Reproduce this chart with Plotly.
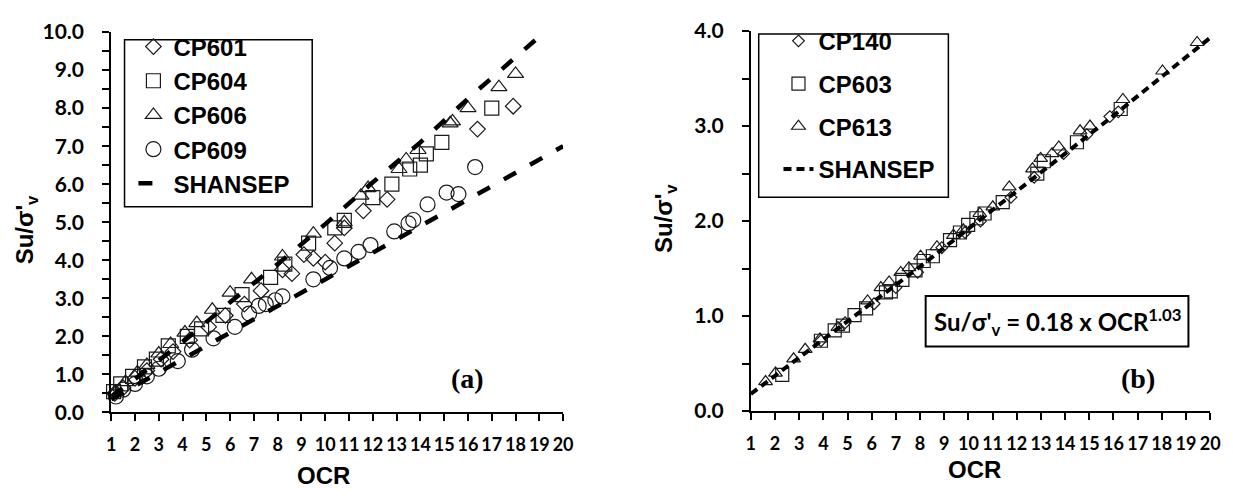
import plotly.graph_objects as go

W, H = 1233, 499

# ---------------- data: panel (a) ----------------
cp601_x = [1.15, 1.5, 2.0, 2.5, 3.1, 3.6, 4.3, 5.1, 5.8, 6.6, 7.3, 8.2, 8.6, 9.1, 9.5, 10.0, 10.4, 10.8, 11.6, 12.6, 16.4, 17.9]
cp601_y = [0.5, 0.65, 0.9, 1.1, 1.4, 1.6, 1.9, 2.25, 2.55, 2.85, 3.2, 3.75, 3.65, 4.15, 4.05, 3.95, 4.45, 4.85, 5.3, 5.6, 7.45, 8.05]

cp604_x = [1.1, 1.4, 1.9, 2.4, 2.9, 3.4, 4.2, 4.8, 5.7, 6.5, 7.7, 8.3, 9.3, 10.4, 10.8, 12.0, 12.8, 13.55, 14.0, 14.25, 14.9, 17.0]
cp604_y = [0.55, 0.75, 0.95, 1.2, 1.4, 1.75, 2.0, 2.2, 2.55, 3.1, 3.55, 3.9, 4.45, 4.85, 5.05, 5.65, 6.0, 6.4, 6.5, 6.8, 7.1, 8.0]

cp606_x = [1.2, 1.6, 2.1, 2.5, 3.0, 3.5, 4.1, 4.6, 5.25, 6.0, 6.9, 8.2, 9.5, 10.8, 11.5, 11.8, 13.1, 13.4, 13.9, 15.25, 15.35, 16.0, 17.3, 18.0]
cp606_y = [0.55, 0.8, 1.05, 1.25, 1.55, 1.8, 2.1, 2.35, 2.7, 3.15, 3.5, 4.1, 4.7, 5.0, 5.7, 5.9, 6.4, 6.65, 6.9, 7.6, 7.65, 8.0, 8.55, 8.9]

cp609_x = [1.2, 1.5, 2.0, 2.5, 3.0, 3.8, 4.4, 5.3, 6.2, 6.8, 7.2, 7.5, 7.9, 8.2, 9.5, 10.2, 10.8, 11.4, 11.9, 12.9, 13.5, 13.7, 14.3, 15.1, 15.6, 16.3]
cp609_y = [0.42, 0.6, 0.75, 0.95, 1.15, 1.35, 1.65, 1.95, 2.25, 2.6, 2.8, 2.85, 2.95, 3.05, 3.5, 3.8, 4.05, 4.22, 4.4, 4.76, 4.97, 5.06, 5.47, 5.78, 5.74, 6.45]

shansep_a_up_x = [1, 2, 4, 6, 8, 10, 12, 14, 16, 18, 19.22]
shansep_a_up_y = [0.42, 0.88, 1.85, 2.9, 3.9, 4.95, 6.05, 7.1, 8.25, 9.35, 10.0]
shansep_a_lo_x = [1, 5, 10, 15, 20]
shansep_a_lo_y = [0.35, 1.75, 3.5, 5.25, 7.0]

# ---------------- data: panel (b) ----------------
cp140_x = [3.9, 4.9, 6.1, 7.0, 7.9, 8.9, 9.86, 10.5, 11.76, 12.72, 13.94, 14.9, 15.85, 16.2]
cp140_y = [0.74, 0.93, 1.13, 1.3, 1.46, 1.72, 1.88, 2.0, 2.25, 2.46, 2.71, 2.91, 3.1, 3.15]

cp603_x = [2.3, 3.9, 4.47, 4.81, 5.29, 5.77, 6.59, 6.79, 7.27, 7.81, 8.15, 8.53, 9.24, 9.65, 9.99, 10.33, 10.67, 11.42, 12.85, 13.12, 14.49, 16.3]
cp603_y = [0.38, 0.74, 0.85, 0.9, 1.01, 1.08, 1.25, 1.26, 1.38, 1.48, 1.58, 1.63, 1.8, 1.88, 1.96, 2.03, 2.08, 2.2, 2.5, 2.63, 2.83, 3.18]

cp613_x = [1.61, 2.02, 2.77, 3.25, 3.86, 4.6, 5.83, 6.38, 6.72, 7.2, 7.54, 8.02, 8.7, 9.38, 9.79, 10.47, 11.01, 11.69, 12.65, 12.99, 13.46, 13.74, 14.62, 15.03, 16.39, 18.03, 19.46]
cp613_y = [0.31, 0.4, 0.55, 0.65, 0.76, 0.88, 1.16, 1.3, 1.36, 1.46, 1.51, 1.63, 1.73, 1.85, 1.91, 2.08, 2.15, 2.36, 2.55, 2.66, 2.71, 2.78, 2.95, 3.0, 3.28, 3.58, 3.88]

shansep_b_x = [1, 2, 4, 6, 8, 10, 12, 14, 16, 18, 20]
shansep_b_y = [0.18, 0.37, 0.75, 1.13, 1.52, 1.92, 2.31, 2.71, 3.11, 3.52, 3.93]

x_ticks = list(range(1, 21))

# ---------------- helpers ----------------
def PX(x):
    return x / W

def PY(y):
    return 1 - y / H

ARIAL = "Arial, Liberation Sans, sans-serif"
CALI = "Lato, Open Sans, sans-serif"
MK = "#1a1a1a"

fig = go.Figure()

def add_markers(x, y, name, symbol, size, xa, ya, leg):
    fig.add_trace(go.Scatter(
        x=x, y=y, mode="markers", name=name, xaxis=xa, yaxis=ya,
        legend=leg, legendgroup=name, cliponaxis=False,
        marker=dict(symbol=symbol, size=size, color=MK,
                    line=dict(color=MK, width=1.2)),
    ))

add_markers(cp601_x, cp601_y, "CP601", "diamond-open", 12, "x", "y", "legend")
add_markers(cp604_x, cp604_y, "CP604", "square-open", 14, "x", "y", "legend")
add_markers(cp606_x, cp606_y, "CP606", "triangle-up-open", 14, "x", "y", "legend")
add_markers(cp609_x, cp609_y, "CP609", "circle-open", 15, "x", "y", "legend")

fig.add_trace(go.Scatter(
    x=shansep_a_up_x, y=shansep_a_up_y, mode="lines", name="SHANSEP",
    xaxis="x", yaxis="y", legend="legend", legendgroup="SHANSEP",
    line=dict(color="black", width=4.5, dash="14px,16px"),
))
fig.add_trace(go.Scatter(
    x=shansep_a_lo_x, y=shansep_a_lo_y, mode="lines", name="SHANSEP",
    xaxis="x", yaxis="y", showlegend=False, legendgroup="SHANSEP",
    line=dict(color="black", width=4.5, dash="14px,16px"),
))

add_markers(cp140_x, cp140_y, "CP140", "diamond-open", 9, "x2", "y2", "legend2")
add_markers(cp603_x, cp603_y, "CP603", "square-open", 13, "x2", "y2", "legend2")
add_markers(cp613_x, cp613_y, "CP613", "triangle-up-open", 12, "x2", "y2", "legend2")

fig.add_trace(go.Scatter(
    x=shansep_b_x, y=shansep_b_y, mode="lines", name="SHANSEP",
    xaxis="x2", yaxis="y2", legend="legend2", legendgroup="SHANSEP2",
    line=dict(color="black", width=4, dash="8px,5px"),
))

tickfont = dict(family=CALI, size=21, color="black", weight="bold")

def xaxis_style(domain, anchor):
    return dict(
        domain=domain, anchor=anchor, range=[1, 20], tickmode="array",
        tickvals=x_ticks, ticktext=[str(v) for v in x_ticks], tickangle=0,
        showline=True, linecolor="black", linewidth=2, showgrid=False,
        zeroline=False, ticks="outside", ticklen=7, tickwidth=1.5,
        tickcolor="black", tickfont=dict(tickfont, size=18), ticklabelstandoff=8,
    )

def yaxis_style(domain, anchor, rng):
    return dict(
        domain=domain, anchor=anchor, range=rng, dtick=1, tick0=0,
        tickformat=".1f", showline=True, linecolor="black", linewidth=2,
        showgrid=False, zeroline=False, ticks="outside", ticklen=7,
        tickwidth=1.5, tickcolor="black", tickfont=tickfont,
        ticklabelstandoff=14,
        minor=dict(dtick=0.5, ticks="outside", ticklen=7, tickwidth=1.5,
                   tickcolor="black", showgrid=False),
    )

legend_common = dict(
    xanchor="left", yanchor="top", bgcolor="rgba(0,0,0,0)", borderwidth=0,
    font=dict(family=ARIAL, size=24, color="black", weight="bold"),
    traceorder="grouped", itemclick=False,
)

fig.update_layout(
    width=W, height=H, margin=dict(l=0, r=0, t=0, b=0),
    paper_bgcolor="white", plot_bgcolor="white",
    xaxis=xaxis_style([PX(107.5), PX(565)], "y"),
    yaxis=yaxis_style([PY(419.5), PY(19)], "x", [0, 10]),
    xaxis2=xaxis_style([PX(755), PX(1220)], "y2"),
    yaxis2=yaxis_style([PY(418), PY(18)], "x2", [0, 4]),
    legend=dict(x=PX(130), y=PY(11), tracegroupgap=0, **legend_common),
    legend2=dict(x=PX(783), y=PY(5), tracegroupgap=8.5, **legend_common),
    showlegend=True,
)

box = dict(type="rect", xref="paper", yref="paper", line=dict(color="black", width=1.5),
           fillcolor="rgba(0,0,0,0)", layer="above")
fig.add_shape(x0=PX(121), x1=PX(311), y0=PY(203), y1=PY(27), **box)
fig.add_shape(x0=PX(763), x1=PX(955), y0=PY(193), y1=PY(21), **box)
fig.add_shape(x0=PX(932), x1=PX(1198), y0=PY(350), y1=PY(297),
              **{**box, "line": dict(color="black", width=2)})

def ann(text, x, y, font, angle=0):
    fig.add_annotation(text=text, x=PX(x), y=PY(y), xref="paper", yref="paper",
                       showarrow=False, xanchor="center", yanchor="middle",
                       textangle=angle, font=font)

title_font = dict(family=ARIAL, size=24, color="black", weight="bold")
ann("OCR", 322, 486, title_font)
ann("OCR", 981, 480, title_font)
ann("Su/σ'<sub>v</sub>", 22, 227, title_font, -90)
ann("Su/σ'<sub>v</sub>", 668, 215, title_font, -90)

serif = dict(family="Liberation Serif, Times New Roman, serif", size=28, color="black", weight="bold")
ann("(a)", 468, 384, serif)
ann("(b)", 1147, 384, serif)

ann("Su/σ'<sub>v</sub> = 0.18 x OCR<sup>1.03</sup>", 1066, 324,
    dict(family=CALI, size=24, color="black", weight="bold"))

fig.write_html("out.html")
